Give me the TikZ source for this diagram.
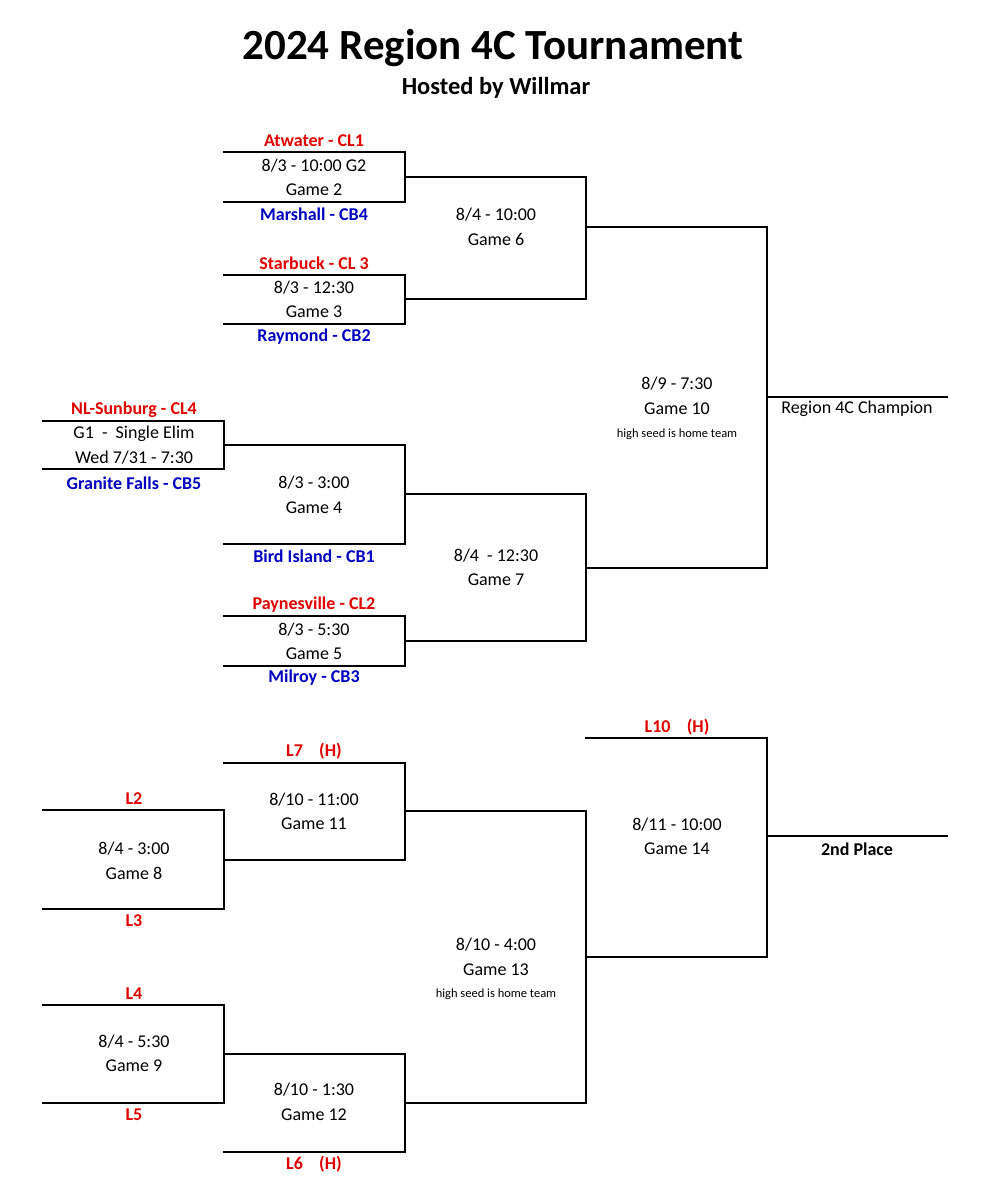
\documentclass[tikz,border=0pt]{standalone}
\usepackage{fontspec}
\setmainfont{Carlito}
\definecolor{tred}{RGB}{225,0,0}
\definecolor{tblue}{RGB}{0,0,190}
\begin{document}
\begin{tikzpicture}[x=1pt,y=-1pt,
  ln/.style={line width=2.9pt,line cap=rect},
  t/.style={font=\fontsize{18}{18}\selectfont,inner sep=0},
  r/.style={t,font=\fontsize{18}{18}\selectfont\bfseries,text=tred},
  b/.style={t,font=\fontsize{18}{18}\selectfont\bfseries,text=tblue},
  s/.style={t,font=\fontsize{12.5}{12.5}\selectfont}]
\useasboundingbox[fill=white] (0,0) rectangle (982,1200);
\node[font=\fontsize{43}{43}\selectfont\bfseries] (title) at (493,48) {2024 Region 4C Tournament};
\node[font=\fontsize{24.5}{24.5}\selectfont\bfseries] (sub) at (496,88) {Hosted by Willmar};
% upper bracket
\coordinate (a1) at (224,152); \coordinate (a2) at (405,152); \coordinate (a3) at (405,202); \coordinate (a4) at (224,202);
\draw[ln] (a1)--(a2)--(a3)--(a4);
\coordinate (b1) at (224,275); \coordinate (b2) at (405,275); \coordinate (b3) at (405,324); \coordinate (b4) at (224,324);
\draw[ln] (b1)--(b2)--(b3)--(b4);
\coordinate (c1) at (405,177); \coordinate (c2) at (586,177); \coordinate (c3) at (586,299); \coordinate (c4) at (405,299);
\draw[ln] (c1)--(c2)--(c3)--(c4);
\coordinate (g1a) at (43,421); \coordinate (g1b) at (224,421); \coordinate (g1c) at (224,469); \coordinate (g1d) at (43,469);
\draw[ln] (g1a)--(g1b)--(g1c)--(g1d);
\coordinate (d1) at (224,445); \coordinate (d2) at (405,445); \coordinate (d3) at (405,544); \coordinate (d4) at (224,544);
\draw[ln] (d1)--(d2)--(d3)--(d4);
\coordinate (e1) at (224,616); \coordinate (e2) at (405,616); \coordinate (e3) at (405,666); \coordinate (e4) at (224,666);
\draw[ln] (e1)--(e2)--(e3)--(e4);
\coordinate (f1) at (405,494); \coordinate (f2) at (586,494); \coordinate (f3) at (586,641); \coordinate (f4) at (405,641);
\draw[ln] (f1)--(f2)--(f3)--(f4);
\coordinate (h1) at (586,227); \coordinate (h2) at (767,227); \coordinate (h3) at (767,568); \coordinate (h4) at (586,568);
\draw[ln] (h1)--(h2)--(h3)--(h4);
\coordinate (ch1) at (767,397); \coordinate (ch2) at (947,397);
\draw[ln] (ch1)--(ch2);
% lower bracket
\coordinate (i1) at (43,810); \coordinate (i2) at (224,810); \coordinate (i3) at (224,909); \coordinate (i4) at (43,909);
\draw[ln] (i1)--(i2)--(i3)--(i4);
\coordinate (j1) at (224,763); \coordinate (j2) at (405,763); \coordinate (j3) at (405,860); \coordinate (j4) at (224,860);
\draw[ln] (j1)--(j2)--(j3)--(j4);
\coordinate (k1) at (43,1005); \coordinate (k2) at (224,1005); \coordinate (k3) at (224,1103); \coordinate (k4) at (43,1103);
\draw[ln] (k1)--(k2)--(k3)--(k4);
\coordinate (l1) at (224,1054); \coordinate (l2) at (405,1054); \coordinate (l3) at (405,1152); \coordinate (l4) at (224,1152);
\draw[ln] (l1)--(l2)--(l3)--(l4);
\coordinate (m1) at (405,811); \coordinate (m2) at (586,811); \coordinate (m3) at (586,1103); \coordinate (m4) at (405,1103);
\draw[ln] (m1)--(m2)--(m3)--(m4);
\coordinate (n1) at (586,738); \coordinate (n2) at (767,738); \coordinate (n3) at (767,957); \coordinate (n4) at (586,957);
\draw[ln] (n1)--(n2)--(n3)--(n4);
\coordinate (p1) at (767,836); \coordinate (p2) at (947,836);
\draw[ln] (p1)--(p2);
% texts upper
\node[r] (t1) at (314,141) {Atwater - CL1};
\node[t] (t2) at (314,166) {8/3 - 10:00 G2};
\node[t] (t3) at (314,190) {Game 2};
\node[b] (t4) at (314,214) {Marshall - CB4};
\node[t] (t5) at (496,215) {8/4 - 10:00};
\node[t] (t6) at (496,239) {Game 6};
\node[r] (t7) at (314,263) {Starbuck - CL 3};
\node[t] (t8) at (314,288) {8/3 - 12:30};
\node[t] (t9) at (314,312) {Game 3};
\node[b] (t10) at (314,337) {Raymond - CB2};
\node[r] (t11) at (134,410) {NL-Sunburg - CL4};
\node[t] (t12) at (134,434) {G1\ \ -\ \ Single Elim};
\node[t] (t13) at (134,458) {Wed 7/31 - 7:30};
\node[b] (t14) at (134,483) {Granite Falls - CB5};
\node[t] (t15) at (314,483) {8/3 - 3:00};
\node[t] (t16) at (314,508) {Game 4};
\node[b] (t17) at (314,556) {Bird Island - CB1};
\node[t] (t18) at (496,556) {8/4\ \ - 12:30};
\node[t] (t19) at (496,580) {Game 7};
\node[r] (t20) at (314,605) {Paynesville - CL2};
\node[t] (t21) at (314,630) {8/3 - 5:30};
\node[t] (t22) at (314,654) {Game 5};
\node[b] (t23) at (314,678) {Milroy - CB3};
\node[t] (t24) at (677,384) {8/9 - 7:30};
\node[t] (t25) at (677,409) {Game 10};
\node[s] (t26) at (677,434) {high seed is home team};
\node[t] (t27) at (857,409) {Region 4C Champion};
% texts lower
\node[r] (u1) at (677,727) {L10\ \ \ \ (H)};
\node[r] (u2) at (314,751) {L7\ \ \ \ (H)};
\node[r] (u3) at (134,799) {L2};
\node[t] (u4) at (314,800) {8/10 - 11:00};
\node[t] (u5) at (314,824) {Game 11};
\node[t] (u6) at (677,825) {8/11 - 10:00};
\node[t] (u7) at (677,849) {Game 14};
\node[t,font=\fontsize{18}{18}\selectfont\bfseries] (u8) at (857,849) {2nd Place};
\node[t] (u9) at (134,849) {8/4 - 3:00};
\node[t] (u10) at (134,873) {Game 8};
\node[r] (u11) at (134,921) {L3};
\node[t] (u12) at (496,945) {8/10 - 4:00};
\node[t] (u13) at (496,970) {Game 13};
\node[s] (u14) at (496,994) {high seed is home team};
\node[r] (u15) at (134,994) {L4};
\node[t] (u16) at (134,1042) {8/4 - 5:30};
\node[t] (u17) at (134,1066) {Game 9};
\node[r] (u18) at (134,1115) {L5};
\node[t] (u19) at (314,1090) {8/10 - 1:30};
\node[t] (u20) at (314,1115) {Game 12};
\node[r] (u21) at (314,1164) {L6\ \ \ \ (H)};
\end{tikzpicture}
\end{document}
